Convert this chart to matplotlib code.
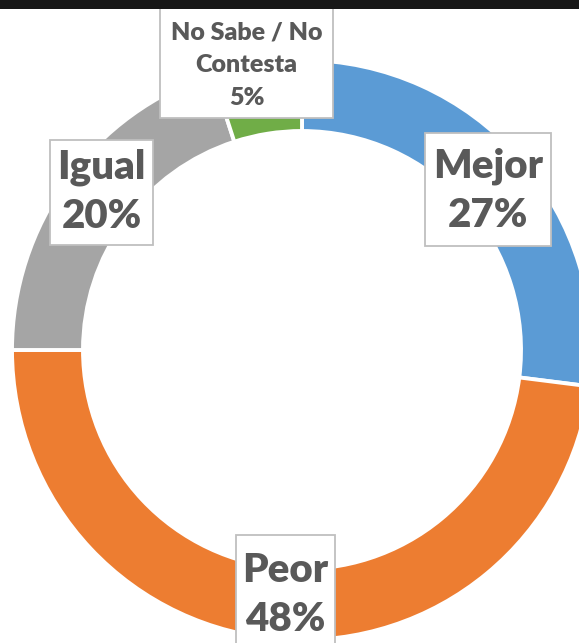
import matplotlib.pyplot as plt
from matplotlib.patches import Rectangle

categories = ['Mejor', 'Peor', 'Igual', 'No Sabe / No\nContesta']
values = [27, 48, 20, 5]
colors = ['#5B9BD5', '#ED7D31', '#A5A5A5', '#70AD47']

W, H = 579, 643
fig = plt.figure(figsize=(W / 100, H / 100), dpi=100)
ax = fig.add_axes([0, 0, 1, 1])

# donut
cx, cy, r_out, r_in = 302, H - 350, 290, 219
ax.pie(values, colors=colors, startangle=90, counterclock=False,
       center=(cx, cy), radius=r_out, frame=True,
       wedgeprops=dict(width=r_out - r_in, edgecolor='white', linewidth=2.8))
ax.set_xlim(0, W)
ax.set_ylim(0, H)
ax.set_aspect('equal')
ax.axis('off')

# label boxes: (x0, x1, y0, y1) in pixels from top, text centre y, font size, spacing
boxes = [
    (425, 551, 133, 246, 191, 29, 1.4),
    (236, 335, 535, 660, 595, 29, 1.4),
    (50, 153, 140, 245, 192, 29, 1.4),
    (160, 333, 7, 118, 65, 18, 1.6),
]
for (x0, x1, y0, y1, ty, fs, ls), cat, v in zip(boxes, categories, values):
    ax.add_patch(Rectangle((x0, H - y1), x1 - x0, y1 - y0, facecolor='white',
                           edgecolor='#BFBFBF', linewidth=1.3, zorder=5))
    ax.text((x0 + x1) / 2, H - ty, '%s\n%d%%' % (cat, v), ha='center', va='center',
            fontsize=fs, fontweight='heavy', family='Lato', color='#595959',
            linespacing=ls, zorder=6)

# dark strip along the top
fig.patches.append(Rectangle((0, 1 - 9 / H), 1, 9 / H, transform=fig.transFigure,
                             facecolor='#171717', edgecolor='none', zorder=10))

fig.savefig('out.png', dpi=100)
